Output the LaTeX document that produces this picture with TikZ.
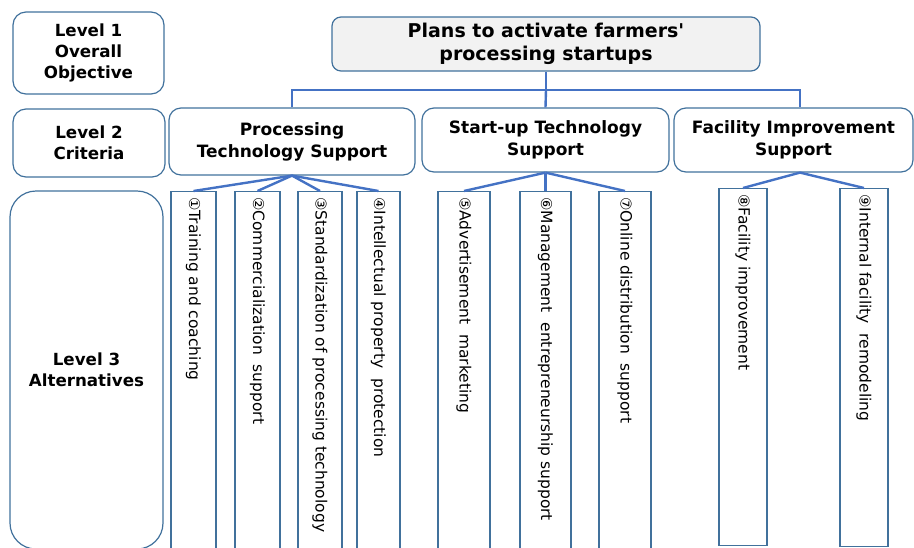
\documentclass[tikz,border=0pt]{standalone}
\usepackage{fontspec}
\setmainfont{DejaVu Sans}
\newfontfamily\circfont{DejaVu Sans}

\definecolor{BoxLine}{HTML}{41719C}
\definecolor{LinkBlue}{HTML}{4472C4}
\definecolor{GoalFill}{HTML}{F2F2F2}

\begin{document}
\begin{tikzpicture}[x=1pt, y=-1pt,
  levelbox/.style={draw=BoxLine, line width=1.2pt, rounded corners=13pt, align=center, inner sep=0pt,
    font=\bfseries\fontsize{16.7}{21}\selectfont},
  critbox/.style={levelbox, rounded corners=12pt, font=\bfseries\fontsize{17}{22}\selectfont},
  goalbox/.style={critbox, fill=GoalFill, rounded corners=9pt, font=\bfseries\fontsize{19}{23}\selectfont},
  altbox/.style={draw=BoxLine, line width=1.2pt, inner sep=0pt, anchor=north},
  alttext/.style={rotate=-90, anchor=west, inner sep=0pt, font=\fontsize{15.5}{16}\selectfont},
  link/.style={draw=LinkBlue, line width=2.4pt}]

 \useasboundingbox (0,0) rectangle (914,547);

 %%%%%%%%%% Level boxes %%%%%%%%%%
 \node [levelbox, minimum width=151pt, minimum height=82pt] (lv1) at (88.5,53) {Level 1\\Overall\\Objective};
 \node [levelbox, minimum width=152pt, minimum height=68pt] (lv2) at (89,143) {Level 2\\Criteria};
 \node [levelbox, rounded corners=26pt, minimum width=153pt, minimum height=358pt] (lv3) at (86.5,370) {Level 3\\Alternatives};

 %%%%%%%%%% Goal and criteria %%%%%%%%%%
 \node [goalbox, minimum width=428pt, minimum height=54pt] (goal) at (546,44) {Plans to activate farmers\textquotesingle\\processing startups};
 \node [critbox, minimum width=246pt, minimum height=67pt] (c1) at (292,141.5) {Processing\\Technology Support};
 \node [critbox, minimum width=247pt, minimum height=64pt] (c2) at (545.5,140) {Start-up Technology\\Support};
 \node [critbox, minimum width=239pt, minimum height=64pt] (c3) at (793.5,140) {Facility Improvement\\Support};

 %%%%%%%%%% Points pour les liens %%%%%%%%%%
 \coordinate (bar) at (546,90);
 \coordinate (j1) at (c1.south);
 \coordinate (j2) at (c2.south);
 \coordinate (j3) at ([xshift=6.5pt]c3.south);

 %%%%%%%%%% Alternatives %%%%%%%%%%
 \foreach \i/\xc/\w/\yt/\h/\txt in {
   1/193.5/45/191/370/{{\circfont\fontsize{15}{15}\selectfont ①}Training and coaching},
   2/257.5/45/191/370/{{\circfont\fontsize{15}{15}\selectfont ②}Commercialization\ \ support},
   3/320/44/191/370/{{\circfont\fontsize{15}{15}\selectfont ③}Standardization of processing technology},
   4/378.5/43/191/370/{{\circfont\fontsize{15}{15}\selectfont ④}Intellectual property\ \ protection},
   5/464/52/191/370/{{\circfont\fontsize{15}{15}\selectfont ⑤}Advertisement\ \ marketing},
   6/545.5/51/191/370/{{\circfont\fontsize{15}{15}\selectfont ⑥}Management\ \ entrepreneurship support},
   7/625/52/191/370/{{\circfont\fontsize{15}{15}\selectfont ⑦}Online distribution\ \ support},
   8/743/48/188/357/{{\circfont\fontsize{15}{15}\selectfont ⑧}Facility improvement},
   9/864/48/188/358/{{\circfont\fontsize{15}{15}\selectfont ⑨}Internal facility\ \ remodeling}}
 {
   \node [altbox, minimum width=\w pt, minimum height=\h pt] (a\i) at (\xc,\yt) {};
   \node [alttext] (t\i) at ([yshift=-6pt]a\i.north) {\txt};
 }

 %%%%%%%%%% Links %%%%%%%%%%
 \draw [link] (goal.south) -- (bar);
 \draw [link] (c1.north) |- (bar) -| (c3.north -| j3);
 \draw [link] (bar) -- (c2.north);

 \foreach \p/\a in {j1/1, j1/2, j1/3, j1/4, j2/5, j2/6, j2/7, j3/8, j3/9}
 {
   \draw [link] (\p) -- (a\a.north);
 }

\end{tikzpicture}
\end{document}
